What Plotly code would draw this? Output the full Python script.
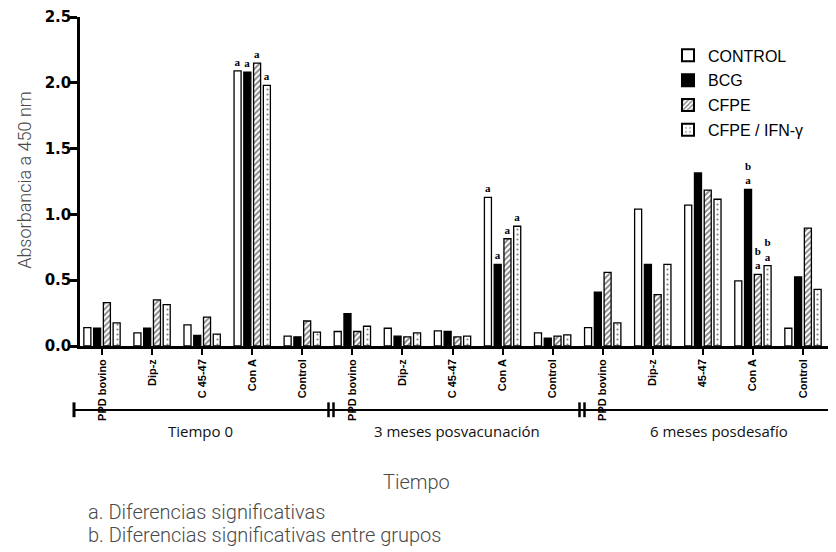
import plotly.graph_objects as go

# ---------------- data ----------------
categories = ["PPD bovino", "Dip-z", "C 45-47", "Con A", "Control",
              "PPD bovino", "Dip-z", "C 45-47", "Con A", "Control",
              "PPD bovino", "Dip-z", "45-47", "Con A", "Control"]
periods = ["Tiempo 0", "3 meses posvacunación", "6 meses posdesafío"]

control = [0.14, 0.10, 0.16, 2.09, 0.075,
           0.11, 0.135, 0.115, 1.13, 0.10,
           0.14, 1.04, 1.07, 0.495, 0.135]
bcg = [0.135, 0.135, 0.08, 2.08, 0.07,
       0.245, 0.075, 0.11, 0.62, 0.06,
       0.41, 0.62, 1.315, 1.19, 0.525]
cfpe = [0.33, 0.35, 0.22, 2.15, 0.19,
        0.11, 0.07, 0.07, 0.815, 0.075,
        0.56, 0.39, 1.185, 0.545, 0.895]
cfpe_ifn = [0.175, 0.315, 0.09, 1.98, 0.105,
            0.15, 0.10, 0.075, 0.91, 0.085,
            0.175, 0.62, 1.115, 0.61, 0.43]

# significance letters
sig_control = ["", "", "", "a", "", "", "", "", "a", "", "", "", "", "", ""]
sig_bcg = ["", "", "", "a", "", "", "", "", "a", "", "", "", "", "b<br>a", ""]
sig_cfpe = ["", "", "", "a", "", "", "", "", "a", "", "", "", "", "b<br>a", ""]
sig_ifn = ["", "", "", "a", "", "", "", "", "a", "", "", "", "", "b<br>a", ""]

series_names = ["CONTROL", "BCG", "CFPE", "CFPE / IFN-γ"]

# ---------------- layout geometry (screen pixels, page has 8px body margin) ----------------
OFF = 8
W, H = 836 - OFF, 552 - OFF
PLOT_L, PLOT_R, PLOT_T, PLOT_B = 80, 836, 13.3, 346   # screen coords
ML = PLOT_L - OFF
MR = W - (PLOT_R - OFF)
MT = PLOT_T - OFF
MB = H - (PLOT_B - OFF)
PW = PLOT_R - PLOT_L
PH = PLOT_B - PLOT_T

# category spacing on screen: first tick at 102, last at 803
TICK0, TICKN = 102.0, 803.0
UNIT = (TICKN - TICK0) / 14.0
X_LO = -(TICK0 - PLOT_L) / UNIT
X_HI = 14 + (PLOT_R - TICKN) / UNIT


def px_x(p):
    return (p - PLOT_L) / PW


def px_y(p):
    return (PLOT_B - p) / PH


xpos = list(range(len(categories)))


def bar_text(labels):
    return ["<b>%s</b>" % t if t else "" for t in labels]


fig = go.Figure()
outline = dict(color="black", width=1.3)
txtfont = dict(family="Liberation Serif", size=11, color="black")

common = dict(textposition="outside", textfont=txtfont, constraintext="none", cliponaxis=False)
fig.add_trace(go.Bar(x=xpos, y=control, name=series_names[0], legendgroup="g1",
                     marker=dict(color="white", line=outline),
                     text=bar_text(sig_control), **common))
fig.add_trace(go.Bar(x=xpos, y=bcg, name=series_names[1], legendgroup="g2",
                     marker=dict(color="black", line=outline),
                     text=bar_text(sig_bcg), **common))
fig.add_trace(go.Bar(x=xpos, y=cfpe, name=series_names[2], legendgroup="g3",
                     marker=dict(color="white", line=outline,
                                 pattern=dict(shape="/", fgcolor="black", bgcolor="white",
                                              size=4, solidity=0.45)),
                     text=bar_text(sig_cfpe), **common))
fig.add_trace(go.Bar(x=xpos, y=cfpe_ifn, name=series_names[3], legendgroup="g4",
                     marker=dict(color="white", line=outline,
                                 pattern=dict(shape=".", fgcolor="black", bgcolor="white",
                                              size=5, solidity=0.15)),
                     text=bar_text(sig_ifn), **common))

fig.update_layout(
    width=W, height=H,
    margin=dict(l=ML, r=MR, t=MT, b=MB, pad=0),
    paper_bgcolor="white", plot_bgcolor="white",
    barmode="group", bargap=0.22, bargroupgap=0.28,
    showlegend=True,
    legend=dict(x=px_x(668), y=px_y(35), xanchor="left", yanchor="top",
                font=dict(family="Liberation Sans, Arial", size=16, color="black"),
                bgcolor="rgba(0,0,0,0)", tracegroupgap=1, traceorder="grouped",
                itemsizing="constant"),
    xaxis=dict(range=[X_LO, X_HI],
               tickmode="array", tickvals=xpos, ticktext=["<b>%s</b>" % c for c in categories],
               tickangle=-90, ticks="outside", ticklen=6, tickwidth=2, tickcolor="black",
               tickfont=dict(family="Liberation Sans Narrow, Liberation Sans", size=11, color="black"),
               showline=True, linewidth=2.5, linecolor="black", showgrid=False, zeroline=False),
    yaxis=dict(range=[0, 2.5], dtick=0.5, tickformat=".1f",
               ticks="outside", ticklen=7, tickwidth=2.5, tickcolor="black",
               ticklabeloverflow="allow", ticklabelstandoff=-4,
               tickfont=dict(family="DejaVu Sans", size=15, color="black", weight="bold"),
               showline=True, linewidth=2.5, linecolor="black", showgrid=False, zeroline=False),
)

# ---------------- period line with breaks ----------------
line_y = px_y(410.7)
cap_top, cap_bot = px_y(403), px_y(418)
shapes = [
    dict(type="line", xref="paper", yref="paper", x0=px_x(73), x1=px_x(836),
         y0=line_y, y1=line_y, line=dict(color="black", width=2.2)),
    dict(type="line", xref="paper", yref="paper", x0=px_x(74), x1=px_x(74),
         y0=cap_top, y1=cap_bot, line=dict(color="black", width=3)),
]
for bx in (328.5, 333.5, 579.5, 584.5):
    shapes.append(dict(type="line", xref="paper", yref="paper", x0=px_x(bx), x1=px_x(bx),
                       y0=cap_top, y1=cap_bot, line=dict(color="black", width=2.5)))
fig.update_layout(shapes=shapes)

period_centers = [200, 457, 719]
annotations = []
for name, cx in zip(periods, period_centers):
    annotations.append(dict(x=px_x(cx), y=px_y(432), xref="paper", yref="paper",
                            text=name, showarrow=False, xanchor="center", yanchor="middle",
                            font=dict(family="Open Sans", size=15, color="#111")))

gray_font = dict(family="Roboto", size=20, color="#4a4a4a", weight=300)
annotations.append(dict(x=px_x(25), y=px_y(178), xref="paper", yref="paper",
                        text="Absorbancia a 450 nm", textangle=-90, showarrow=False,
                        xanchor="center", yanchor="middle",
                        font=dict(family="Roboto", size=18, color="#4a4a4a", weight=300)))
annotations.append(dict(x=px_x(416), y=px_y(484), xref="paper", yref="paper",
                        text="Tiempo", showarrow=False, xanchor="center", yanchor="middle",
                        font=gray_font))
annotations.append(dict(x=px_x(86), y=px_y(513.5), xref="paper", yref="paper",
                        text="a. Diferencias significativas", showarrow=False,
                        xanchor="left", yanchor="middle", font=gray_font))
annotations.append(dict(x=px_x(86), y=px_y(537), xref="paper", yref="paper",
                        text="b. Diferencias significativas entre grupos", showarrow=False,
                        xanchor="left", yanchor="middle", font=gray_font))
fig.update_layout(annotations=annotations)

fig.write_html("out.html")
